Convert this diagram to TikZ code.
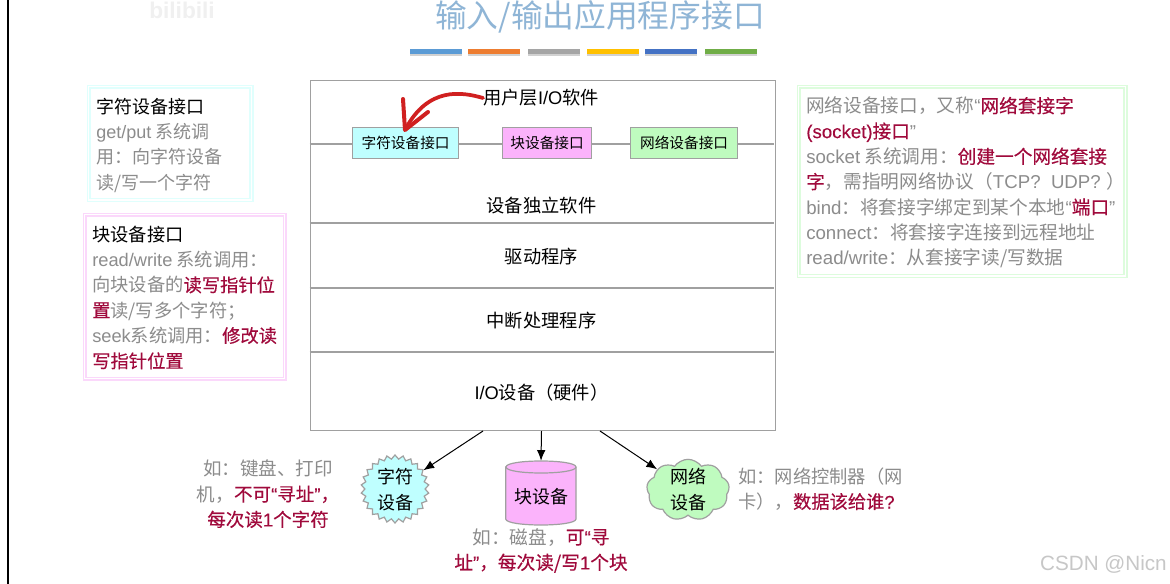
\documentclass[tikz,border=0pt]{standalone}
\usepackage{fontspec}
\setmainfont{Noto Sans CJK SC}
\newfontfamily\latf{Liberation Sans}
\newfontfamily\redf{Noto Sans CJK SC}[FakeBold=0.3]
\newfontfamily\redl{Liberation Sans}[FakeBold=0.2]
\usetikzlibrary{shapes.geometric,shapes.symbols,arrows.meta}
\definecolor{txtgray}{HTML}{8C8C8C}
\definecolor{txtred}{HTML}{A00A3C}
\definecolor{linegray}{HTML}{A0A0A0}
\definecolor{titleblue}{HTML}{8FB5D6}
\definecolor{fillcyan}{HTML}{BFFFFF}
\definecolor{fillpink}{HTML}{FBB3FB}
\definecolor{fillgreen}{HTML}{BFFBBF}
\definecolor{pancyan}{HTML}{E0FFFD}
\definecolor{panpink}{HTML}{FBD8FB}
\definecolor{pangreen}{HTML}{DDFCDD}
\definecolor{arrowred}{HTML}{D02020}
\newcommand{\lat}[1]{{\latf #1}}
\newcommand{\rd}[1]{{\color{txtred}\redf #1}}
\newcommand{\rdl}[1]{{\color{txtred}\redl #1}}
\tikzset{
  x=0.75pt,y=-0.75pt,
  body/.style={font=\fontsize{#1}{19}\selectfont,inner sep=0pt,text=txtgray},
  note/.style={body=#1,align=left,anchor=west},
  notec/.style={body=#1,align=center},
  panel/.style={draw=#1,double=white,double distance=1pt,line width=1.1pt,inner sep=0pt,anchor=north west},
  rule/.style={draw=linegray,line width=0.85pt},
  iface/.style={draw=linegray,line width=0.9pt,inner sep=0pt,minimum height=23.25pt,font=\fontsize{11}{13}\selectfont,text=black},
  layer/.style={font=\fontsize{13.7}{16}\selectfont,inner sep=0pt,text=black},
  devtext/.style={font=\fontsize{13.5}{19.5}\selectfont,inner sep=0pt,text=black,align=center},
  arr/.style={draw=black,line width=0.75pt,-{Latex[length=8pt,width=6.5pt]}},
}
\begin{document}
\begin{tikzpicture}
\useasboundingbox (0,0) rectangle (1170,584);
\fill[white] (0,0) rectangle (1170,584);
\draw[black,line width=1.5pt] (7.5,0) -- (7.5,584);

% faint watermark
\node[inner sep=0pt,text=black!6] (wmb) at (182,10) {\fontsize{17}{18}\latf\bfseries bilibili};

% title and bars
\node[inner sep=0pt,text=titleblue] (title) at (600,17) {\fontsize{23.8}{27}\selectfont 输入/输出应用程序接口};
\foreach \a/\c in {410/5B9BD5,468/ED7D31,528/A5A5A5,587/FFC000,645/4472C4,705/70AD47}{
  \definecolor{barc}{HTML}{\c}
  \fill[black!18] (\a,51) rectangle (\a+52,56);
  \fill[barc] (\a,49) rectangle (\a+52,54.5);
}

% main box
\node[rule,draw,fill=white,anchor=north west,minimum width=348.75pt,minimum height=262.5pt,inner sep=0pt] (main) at (309.5,80) {};
\coordinate (l1) at (309.5,223); \coordinate (r1) at (774,223);
\coordinate (l2) at (309.5,288); \coordinate (r2) at (774,288);
\coordinate (l3) at (309.5,352); \coordinate (r3) at (774,352);
\coordinate (l0) at (309.5,144); \coordinate (r0) at (774,144);
\draw[rule] (l1) -- (r1);
\draw[rule] (l2) -- (r2);
\draw[rule] (l3) -- (r3);

\node[iface,fill=fillcyan,minimum width=79.5pt,anchor=north west] (ichar) at (352,127) {字符设备接口};
\node[iface,fill=fillpink,minimum width=66.75pt,anchor=north west] (iblock) at (502,127) {块设备接口};
\node[iface,fill=fillgreen,minimum width=80.25pt,anchor=north west] (inet) at (630,127) {网络设备接口};
\draw[rule] (l0) -- (ichar.west |- l0);
\draw[rule] (ichar.east |- l0) -- (iblock.west |- l0);
\draw[rule] (iblock.east |- l0) -- (inet.west |- l0);
\draw[rule] (inet.east |- l0) -- (r0);

\node[layer,anchor=west] (user) at (483,98) {用户层\lat{I/O}软件};
\node[layer] (indep) at (541.5,206) {设备独立软件};
\node[layer] (drv) at (541.5,257) {驱动程序};
\node[layer] (irq) at (541.5,321) {中断处理程序};
\node[layer] (hw) at (541.5,393) {\lat{I/O}设备（硬件）};

% red hand-drawn arrow
\coordinate (tip) at (405,130);
\coordinate (barbl) at (403,99);
\coordinate (barbr) at (428,112);
\draw[color=arrowred,line width=2.8pt,line cap=round,line join=round]
  (user.west) .. controls (462,92) and (428,86) .. (tip);
\draw[color=arrowred,line width=3pt,line cap=round,line join=round]
  (barbl) -- (tip) -- (barbr);

% left panels
\node[panel=pancyan,minimum width=122pt,minimum height=85pt] (pchar) at (88,86) {};
\node[note=13.5,text=black] (tchar) at (96,145) {\textcolor{black}{字符设备接口}\\
  \textcolor{txtgray}{\lat{get/put} 系统调}\\
  \textcolor{txtgray}{用：向字符设备}\\
  \textcolor{txtgray}{读/写一个字符}};
\node[panel=panpink,minimum width=150pt,minimum height=123pt] (pblock) at (84,214) {};
\node[note=13.7] (tblock) at (92,297.5) {\textcolor{black}{块设备接口}\\
  \lat{read/write} 系统调用：\\
  向块设备的\rd{读写指针位}\\
  \rd{置}读/写多个字符；\\
  \lat{seek}系统调用：\rd{修改读}\\
  \rd{写指针位置}};
\node[panel=pangreen,minimum width=245pt,minimum height=142pt] (pnet) at (798,86) {};
\node[note=14] (tnet) at (806,182.5) {网络设备接口，又称\lat{“}\rd{网络套接字}\\
  \rdl{(socket)}\rd{接口}\lat{”}\\
  \lat{socket} 系统调用：\rd{创建一个网络套接}\\
  \rd{字}，需指明网络协议（\lat{TCP?\ \ UDP?\ }）\\
  \lat{bind}：将套接字绑定到某个本地\lat{“}\rd{端口}\lat{”}\\
  \lat{connect}：将套接字连接到远程地址\\
  \lat{read/write}：从套接字读/写数据};

% devices
\node[star,star points=26,star point ratio=1.13,draw=linegray,fill=fillcyan,line width=0.9pt,minimum size=51pt,inner sep=0pt] (star) at (395,489) {};
\node[devtext] (tstar) at (395,490) {字符\\设备};
\node[inner sep=0pt,minimum width=52.5pt,minimum height=48pt] (cyl) at (541,493) {};
\draw[draw=linegray,fill=fillpink,line width=0.9pt]
  (cyl.north west |- 0,467) -- (cyl.south west |- 0,519)
  .. controls (506,527) and (576,527) .. (576,519) -- (576,467)
  .. controls (576,459) and (506,459) .. (506,467) -- cycle;
\draw[draw=linegray,line width=0.9pt] (506,467) .. controls (506,475) and (576,475) .. (576,467);
\node[devtext] (tcyl) at (541,497) {块设备};
\node[cloud,cloud puffs=9,cloud puff arc=110,aspect=1.3,draw=linegray,fill=fillgreen,line width=0.9pt,minimum width=62pt,minimum height=46pt,inner sep=0pt] (cloud) at (688,490) {};
\node[devtext] (tcloud) at (688,490) {网络\\设备};

\coordinate (a1) at (483,431);
\coordinate (a2) at (541.5,431);
\coordinate (a3) at (600,431);
\draw[arr] (a1) -- (star);
\draw[arr] (a2) -- (cyl.north);
\draw[arr] (a3) -- (cloud);

\node[notec=13.9] (nchar) at (268,494) {如：键盘、打印\\机，\rd{不可}\rdl{“}\rd{寻址}\rdl{”}\rd{，}\\\rd{每次读}\rdl{1}\rd{个字符}};
\node[notec=14] (nblock) at (541,550.5) {如：磁盘，\rd{可}\rdl{“}\rd{寻}\\\rd{址}\rdl{”}\rd{，每次读/写}\rdl{1}\rd{个块}};
\node[note=13.7] (nnet) at (738,489) {如：网络控制器（网\\卡），\rd{数据该给谁}\rdl{?}};

\node[inner sep=0pt,anchor=east,text=black!22] (csdn) at (1167,564) {\fontsize{15.5}{18}\latf CSDN @Nicn};
\end{tikzpicture}
\end{document}
